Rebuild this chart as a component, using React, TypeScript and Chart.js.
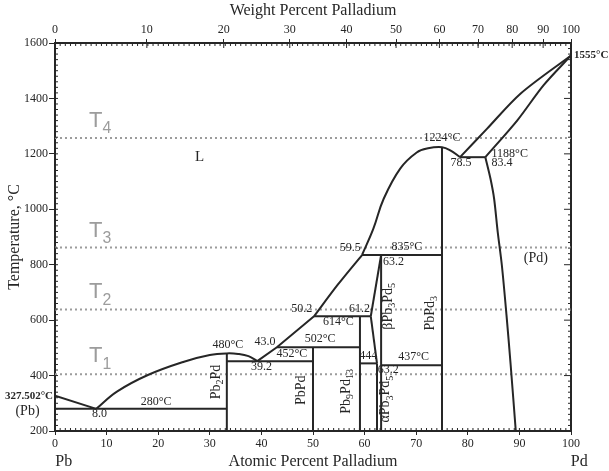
import React, { useEffect, useRef } from 'react';
import { Chart, registerables } from 'chart.js';
Chart.register(...registerables);

const SERIF = "'Liberation Serif', 'Times New Roman', serif";
const SANS = "'Liberation Sans', Arial, sans-serif";
const INK = '#262626';
const GUIDE = '#9c9c9c';

// ---- phase boundaries: [atomic % Pd, temperature °C] ----
const pbLiquidus = [[0, 327.502], [8.0, 280]];
const pb2pdLiquidus = [[8.0, 280], [12, 342], [18, 402], [25, 450], [30, 474], [33.3, 480], [35.5, 478], [37.5, 470], [39.2, 452]];
const liquidusLow = [[39.2, 452], [43.0, 502], [50.2, 614]];
const liquidusMid = [[50.2, 614], [54.8, 728], [59.5, 835]];
const liquidusHigh = [[59.5, 835], [61.7, 930], [63.7, 1038], [66.9, 1147], [70.1, 1205], [72.3, 1220], [75, 1224], [76.6, 1213], [78.5, 1188]];
const pdLiquidus = [[78.5, 1188], [83.7, 1290], [90.2, 1417], [100, 1555]];
const pdSolidus = [[83.4, 1188], [89.6, 1321], [94.7, 1448], [100, 1555]];
const pdSolvus = [[83.4, 1188], [84.4, 1110], [85.1, 1038], [85.8, 918], [86.6, 798], [87.5, 618], [88.3, 440], [89.3, 200]];
const betaUpper = [[61.2, 614], [63.2, 835]];
const betaLower = [[61.2, 614], [62.4, 444]];

// isotherms: [x start, x end, T]
const isotherms = [
  [0, 33.3, 280], [33.3, 50, 452], [43.0, 59.1, 502], [50.2, 61.2, 614],
  [59.1, 62.4, 444], [63.2, 75, 437], [59.5, 75, 835], [78.5, 83.4, 1188],
];
// compound / phase verticals: [x, T bottom, T top]
const verticals = [
  [33.3, 200, 480], [50, 200, 502], [59.1, 200, 614], [62.4, 200, 444], [63.2, 200, 835], [75, 200, 1224],
];
// grey dotted reference temperatures T4, T3, T2, T1
const guideTemps = [1257, 862, 638, 405];
const guideNames = ['T_4', 'T_3', 'T_2', 'T_1'];
const guideLabelTemps = [1298, 901, 679, 449];

// axes
const atomicTicks = [0, 10, 20, 30, 40, 50, 60, 70, 80, 90, 100];
const tempTicks = [200, 400, 600, 800, 1000, 1200, 1400, 1600];
const weightTickLabels = [0, 10, 20, 30, 40, 50, 60, 70, 80, 90, 100];
const weightTickAtAtomic = [0, 17.8, 32.7, 45.5, 56.5, 66.1, 74.5, 82.0, 88.6, 94.6, 100];

// text annotations: [text, at%, °C, kind]
const annotations: [string, number, number, string][] = [
  ['L', 28, 1189, 'big'],
  ['(Pd)', 93.2, 823, 'phase'],
  ['480°C', 33.5, 510, 'num'],
  ['280°C', 19.6, 306, 'num'],
  ['8.0', 8.6, 262, 'num'],
  ['Pb_2Pd', 31.3, 377, 'rot'],
  ['452°C', 45.9, 480, 'num'],
  ['39.2', 40.0, 431, 'num'],
  ['43.0', 40.7, 522, 'num'],
  ['502°C', 51.4, 531, 'num'],
  ['PbPd', 47.8, 347, 'rot'],
  ['Pb_9Pd_13', 56.5, 343, 'rot'],
  ['614°C', 54.9, 594, 'num'],
  ['50.2', 47.8, 640, 'num'],
  ['61.2', 59.0, 642, 'num'],
  ['59.5', 57.2, 860, 'num'],
  ['835°C', 68.2, 863, 'num'],
  ['63.2', 65.6, 811, 'num'],
  ['βPb_3Pd_5', 64.6, 650, 'rot'],
  ['PbPd_3', 72.7, 625, 'rot'],
  ['444', 60.7, 470, 'num'],
  ['437°C', 69.5, 467, 'num'],
  ['63.2', 64.6, 422, 'num'],
  ['αPb_3Pd_5', 64.1, 315, 'rot'],
  ['1224°C', 75.0, 1257, 'num'],
  ['78.5', 78.7, 1167, 'num'],
  ['1188°C', 84.6, 1200, 'numLeft'],
  ['83.4', 84.6, 1167, 'numLeft'],
];

type Opts = { rot?: number; align?: string; baseline?: CanvasTextBaseline; color?: string; family?: string; bold?: boolean };

function drawRich(ctx: CanvasRenderingContext2D, text: string, x: number, y: number, size: number, opts: Opts = {}) {
  const parts: { s: string; sub: boolean; w: number }[] = [];
  let i = 0;
  while (i < text.length) {
    if (text[i] === '_') {
      let j = i + 1;
      while (j < text.length && /[0-9]/.test(text[j])) j++;
      parts.push({ s: text.slice(i + 1, j), sub: true, w: 0 });
      i = j;
    } else {
      let j = i;
      while (j < text.length && text[j] !== '_') j++;
      parts.push({ s: text.slice(i, j), sub: false, w: 0 });
      i = j;
    }
  }
  const fam = opts.family || SERIF;
  const weight = opts.bold ? 'bold ' : '';
  const subSize = size * 0.72;
  const fontFor = (sub: boolean) => `${weight}${sub ? subSize : size}px ${fam}`;
  let w = 0;
  for (const p of parts) {
    ctx.font = fontFor(p.sub);
    p.w = ctx.measureText(p.s).width;
    w += p.w;
  }
  ctx.save();
  ctx.translate(x, y);
  if (opts.rot) ctx.rotate(opts.rot);
  let cx = opts.align === 'left' ? 0 : opts.align === 'right' ? -w : -w / 2;
  ctx.textAlign = 'left';
  ctx.textBaseline = opts.baseline || 'middle';
  ctx.fillStyle = opts.color || INK;
  for (const p of parts) {
    ctx.font = fontFor(p.sub);
    ctx.fillText(p.s, cx, p.sub ? size * 0.3 : 0);
    cx += p.w;
  }
  ctx.restore();
}

const decorPlugin = {
  id: 'decor',
  afterDraw(chart: any) {
    const ctx: CanvasRenderingContext2D = chart.ctx;
    const xs = chart.scales.x;
    const ys = chart.scales.y;
    const { left, right, top, bottom } = chart.chartArea;
    ctx.save();
    ctx.strokeStyle = INK;
    ctx.lineWidth = 1;
    const seg = (x1: number, y1: number, x2: number, y2: number) => {
      ctx.beginPath();
      ctx.moveTo(x1, y1);
      ctx.lineTo(x2, y2);
      ctx.stroke();
    };
    // minor ticks, inward
    for (let v = 0; v <= 100; v += 1) {
      const px = xs.getPixelForValue(v);
      seg(px, bottom, px, bottom - 3);
      seg(px, top, px, top + 3);
    }
    for (const v of weightTickAtAtomic) {
      const px = xs.getPixelForValue(v);
      seg(px, top, px, top + 5);
    }
    for (let v = 200; v <= 1600; v += 20) {
      const py = ys.getPixelForValue(v);
      const major = v % 200 === 0;
      seg(left, py, left + 3, py);
      seg(right, py, right - (major ? 7 : 3), py);
    }
    // in-plot annotations
    for (const [t, ax, ay, kind] of annotations) {
      const px = xs.getPixelForValue(ax);
      const py = ys.getPixelForValue(ay);
      if (kind === 'rot') drawRich(ctx, t, px, py, 14, { rot: -Math.PI / 2 });
      else if (kind === 'big') drawRich(ctx, t, px, py, 15);
      else if (kind === 'phase') drawRich(ctx, t, px, py, 14);
      else if (kind === 'numLeft') drawRich(ctx, t, px, py, 12, { align: 'left' });
      else drawRich(ctx, t, px, py, 12);
    }
    // T labels
    guideNames.forEach((name, k) => {
      drawRich(ctx, name, xs.getPixelForValue(6.6), ys.getPixelForValue(guideLabelTemps[k]), 22, {
        align: 'left', baseline: 'alphabetic', color: GUIDE, family: SANS,
      });
    });
    // outside-axis labels
    drawRich(ctx, '327.502°C', left - 2, ys.getPixelForValue(327.502), 11, { align: 'right', bold: true });
    drawRich(ctx, '(Pb)', left / 2, ys.getPixelForValue(272), 14);
    drawRich(ctx, '1555°C', right + 3, ys.getPixelForValue(1555), 11, { align: 'left', bold: true });
    drawRich(ctx, 'Pb', xs.getPixelForValue(1.7), chart.height - 9, 16);
    drawRich(ctx, 'Pd', xs.getPixelForValue(101.6), chart.height - 9, 16);
    ctx.restore();
  },
};

const toXY = (arr: number[][]) => arr.map(([x, y]) => ({ x, y }));

export default function App() {
  const ref = useRef<HTMLCanvasElement>(null);
  useEffect(() => {
    if (!ref.current) return;
    const line = (data: number[][], tension = 0.4) => ({
      data: toXY(data), borderColor: INK, borderWidth: 2, pointRadius: 0, tension, fill: false, order: 1,
      xAxisID: 'x', yAxisID: 'y',
    });
    const datasets: any[] = [];
    guideTemps.forEach((t) => {
      datasets.push({
        data: toXY([[0, t], [100, t]]), borderColor: GUIDE, borderWidth: 2, borderDash: [2, 3],
        pointRadius: 0, fill: false, order: 5, xAxisID: 'x', yAxisID: 'y',
      });
    });
    [pbLiquidus, liquidusLow, betaUpper, betaLower].forEach((d) => datasets.push(line(d, 0)));
    [pb2pdLiquidus, liquidusHigh].forEach((d) => datasets.push(line(d, 0.4)));
    [liquidusMid, pdLiquidus, pdSolidus, pdSolvus].forEach((d) => datasets.push(line(d, 0.3)));
    isotherms.forEach(([a, b, t]) => datasets.push(line([[a, t], [b, t]], 0)));
    verticals.forEach(([x, t0, t1]) => datasets.push(line([[x, t0], [x, t1]], 0)));

    const tickFont = { family: SERIF, size: 12 };
    const chart = new Chart(ref.current, {
      type: 'line',
      data: { datasets },
      options: {
        animation: false,
        responsive: false,
        devicePixelRatio: 1,
        layout: { padding: 0 },
        plugins: { legend: { display: false }, tooltip: { enabled: false } },
        scales: {
          x: {
            type: 'linear', position: 'bottom', min: 0, max: 100,
            afterBuildTicks: (s: any) => { s.ticks = atomicTicks.map((v) => ({ value: v })); },
            ticks: { font: tickFont, color: INK, padding: 2, maxRotation: 0, autoSkip: false, callback: (v: any) => String(v) },
            grid: { drawOnChartArea: false, tickLength: 4, color: INK, lineWidth: 1 },
            border: { color: INK, width: 2 },
            title: { display: true, text: 'Atomic Percent Palladium', font: { family: SERIF, size: 16 }, color: INK, padding: { top: 0, bottom: 0 } },
            afterFit: (s: any) => { s.height = 40; },
          },
          xTop: {
            type: 'linear', position: 'top', min: 0, max: 100,
            afterBuildTicks: (s: any) => { s.ticks = weightTickAtAtomic.map((v) => ({ value: v })); },
            ticks: {
              font: tickFont, color: INK, padding: 2, maxRotation: 0, autoSkip: false,
              callback: (v: any) => {
                const i = weightTickAtAtomic.indexOf(Number(v));
                return i >= 0 ? String(weightTickLabels[i]) : '';
              },
            },
            grid: { drawOnChartArea: false, tickLength: 4, color: INK, lineWidth: 1 },
            border: { color: INK, width: 2 },
            title: { display: true, text: 'Weight Percent Palladium', font: { family: SERIF, size: 16 }, color: INK, padding: { top: 1, bottom: 0 } },
            afterFit: (s: any) => { s.height = 43; },
          },
          y: {
            type: 'linear', position: 'left', min: 200, max: 1600,
            afterBuildTicks: (s: any) => { s.ticks = tempTicks.map((v) => ({ value: v })); },
            ticks: { font: tickFont, color: INK, padding: 1, autoSkip: false, callback: (v: any) => String(v) },
            grid: { drawOnChartArea: false, tickLength: 6, color: INK, lineWidth: 1 },
            border: { color: INK, width: 2 },
            title: { display: true, text: 'Temperature, °C', font: { family: SERIF, size: 16 }, color: INK, padding: { top: 5, bottom: 0 } },
            afterFit: (s: any) => { s.width = 55; },
          },
          yRight: {
            type: 'linear', position: 'right', min: 200, max: 1600,
            ticks: { display: false },
            grid: { drawOnChartArea: false, drawTicks: false },
            border: { color: INK, width: 2 },
            afterFit: (s: any) => { s.width = 38; },
          },
        },
      } as any,
      plugins: [decorPlugin],
    });
    return () => chart.destroy();
  }, []);
  return (
    <div style={{ position: 'absolute', left: 0, top: 0, width: 609, height: 471, background: '#fff' }}>
      <canvas ref={ref} width={609} height={471} style={{ display: 'block' }} />
    </div>
  );
}
